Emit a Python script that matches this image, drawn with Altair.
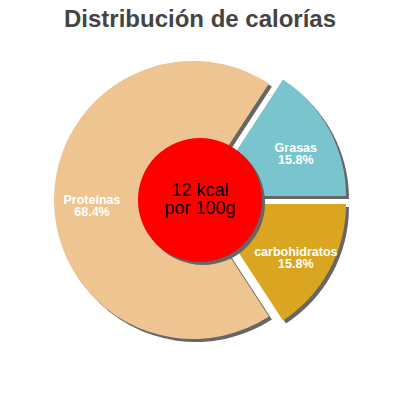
import math
import altair as alt
import pandas as pd

# ---- data ----
categories = ["Grasas", "carbohidratos", "Proteínas"]
percentages = [15.8, 15.8, 68.4]
slice_colors = ["#7AC5CD", "#DAA520", "#EEC591"]
energy_kcal = [12]
per_amount = ["100g"]
title_text = ["Distribución de calorías"]

FONT = "Liberation Sans"

df = pd.DataFrame({"cat": categories, "value": percentages,
                   "order": list(range(len(categories)))})
center_df = pd.DataFrame({"kcal": energy_kcal, "basis": per_amount})
title_df = pd.DataFrame({"t": title_text})

# ---- style / layout ----
CX, CY = 192, 192
R = 139
explode = {"Grasas": (7, -4), "carbohidratos": (7, 4), "Proteínas": (-7, 0)}
SH_DX, SH_DY = 3, 3
SHADOW = "#666666"

a0 = math.pi / 2 - 2 * math.pi * percentages[0] / 100
theta_scale = alt.Scale(domain=[0, 100], range=[a0, a0 + 2 * math.pi])

base = (
    alt.Chart(df)
    .transform_window(end="sum(value)", sort=[alt.SortField("order")], frame=[None, 0])
    .transform_calculate(
        start="datum.end - datum.value",
        mid="datum.end - datum.value / 2",
        label="datum.cat + '\\n' + format(datum.value, '.1f') + '%'",
    )
)

shadows, slices, labels = [], [], []
for c in categories:
    dx, dy = explode[c]
    sub = base.transform_filter(alt.datum.cat == c)
    shadows.append(
        sub.mark_arc(radius=R, color=SHADOW).encode(
            theta=alt.Theta("start:Q", scale=theta_scale),
            theta2="end:Q",
            x=alt.value(CX + dx + SH_DX),
            y=alt.value(CY + dy + SH_DY),
        )
    )
    slices.append(
        sub.mark_arc(radius=R).encode(
            theta=alt.Theta("start:Q", scale=theta_scale),
            theta2="end:Q",
            color=alt.Color("cat:N", scale=alt.Scale(domain=categories, range=slice_colors), legend=None),
            x=alt.value(CX + dx),
            y=alt.value(CY + dy),
        )
    )
    labels.append(
        sub.mark_text(font=FONT, fontSize=12.5, fontWeight="bold", color="white",
                      align="center", baseline="middle", lineBreak="\n", lineHeight=12).encode(
            theta=alt.Theta("mid:Q", scale=theta_scale),
            radius=alt.value(101),
            text="label:N",
            x=alt.value(CX + dx),
            y=alt.value(CY + dy),
        )
    )

center_r = 70
center_shadow = alt.Chart(center_df).mark_circle(
    size=math.pi * center_r ** 2, color=SHADOW, opacity=1
).encode(x=alt.value(CX + 3), y=alt.value(CY + 3))
center_circle = alt.Chart(center_df).mark_circle(
    size=math.pi * center_r ** 2, color="#FF0000", opacity=1
).encode(x=alt.value(CX), y=alt.value(CY))
center_text = (
    alt.Chart(center_df)
    .transform_calculate(t="datum.kcal + ' kcal\\npor ' + datum.basis")
    .mark_text(font=FONT, fontSize=18, color="black", align="center",
               baseline="alphabetic", lineBreak="\n", lineHeight=17.5)
    .encode(text="t:N", x=alt.value(CX), y=alt.value(188))
)

title = alt.Chart(title_df).mark_text(
    font=FONT, fontSize=24, fontWeight="bold", color="#444444",
    align="center", baseline="alphabetic"
).encode(text="t:N", x=alt.value(CX), y=alt.value(19))

chart = (
    alt.layer(*shadows, *slices, *labels, center_shadow, center_circle, center_text, title)
    .properties(width=384, height=384, padding=0,
                autosize=alt.AutoSizeParams(type="none"))
    .configure_view(stroke=None)
)

chart.save("out.html", embed_options={"renderer": "svg", "actions": False})
